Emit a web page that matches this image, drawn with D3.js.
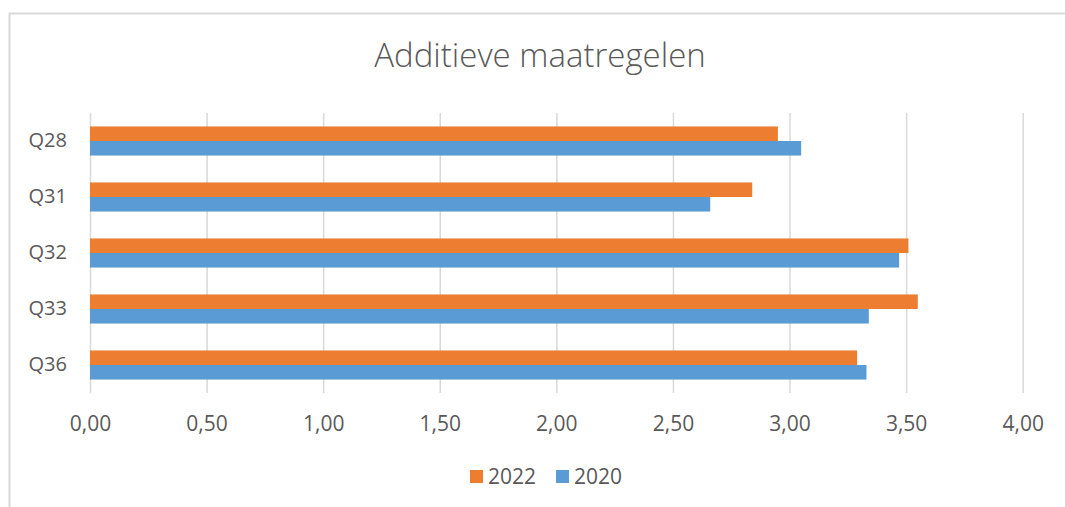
<!DOCTYPE html>
<html>
<head>
<meta charset="utf-8">
<script src="https://cdn.jsdelivr.net/npm/d3@7"></script>
<style>
  body { margin: 0; background: #fff; }
  text { font-family: "Open Sans", sans-serif; fill: #595959; }
</style>
</head>
<body>
<svg id="chart" width="1065" height="507"></svg>
<script>
let categories = ["Q28", "Q31", "Q32", "Q33", "Q36"];
let series = ["2022", "2020"];
let values2022 = [2.95, 2.84, 3.51, 3.55, 3.29];
let values2020 = [3.05, 2.66, 3.47, 3.34, 3.33];
let xTicks = [0, 0.5, 1, 1.5, 2, 2.5, 3, 3.5, 4];
let colors = ["#ED7D31", "#5B9BD5"];

let svg = d3.select("#chart");

// chart border
svg.append("rect")
  .attr("x", 9.5)
  .attr("y", 13.5)
  .attr("width", 1100)
  .attr("height", 600)
  .attr("fill", "none")
  .attr("stroke", "#d9d9d9")
  .attr("stroke-width", 2);

// title
svg.append("text")
  .attr("x", 540)
  .attr("y", 67)
  .attr("text-anchor", "middle")
  .style("font-size", "33px")
  .style("font-weight", 300)
  .text("Additieve maatregelen");

let plotLeft = 90, plotRight = 1022.7, plotTop = 113, plotBottom = 393;

let xScale = d3.scaleLinear()
  .domain([0, 4])
  .range([plotLeft, plotRight]);

let yScale = d3.scaleBand()
  .domain(categories)
  .range([plotTop, plotBottom])
  .paddingInner(0.48)
  .paddingOuter(0.24);

let ySub = d3.scaleBand()
  .domain(series)
  .range([0, yScale.bandwidth()]);

// grid lines
let grid = svg.append("g")
  .attr("transform", "translate(0," + plotBottom + ")")
  .call(d3.axisBottom(xScale).tickValues(xTicks).tickSize(-(plotBottom - plotTop)).tickFormat(""));
grid.select(".domain").remove();
grid.selectAll("line")
  .attr("stroke", "#d9d9d9")
  .attr("stroke-width", 1.5);

// bars
let rows = categories.map(function (c, i) {
  return { cat: c, vals: [values2022[i], values2020[i]] };
});

let groups = svg.selectAll(".grp")
  .data(rows)
  .enter()
  .append("g")
  .attr("transform", function (d) { return "translate(0," + yScale(d.cat) + ")"; });

groups.selectAll("rect")
  .data(function (d) {
    return d.vals.map(function (v, j) { return { s: series[j], v: v, c: colors[j] }; });
  })
  .enter()
  .append("rect")
  .attr("x", xScale(0))
  .attr("y", function (d) { return ySub(d.s); })
  .attr("width", function (d) { return xScale(d.v) - xScale(0); })
  .attr("height", ySub.bandwidth())
  .attr("fill", function (d) { return d.c; });

// x axis labels
let xAxis = svg.append("g")
  .attr("transform", "translate(0," + plotBottom + ")")
  .call(d3.axisBottom(xScale)
    .tickValues(xTicks)
    .tickSize(0)
    .tickPadding(23)
    .tickFormat(function (d) { return d3.format(".2f")(d).replace(".", ","); }));
xAxis.select(".domain").remove();
xAxis.selectAll("text")
  .style("font-size", "21px")
  .attr("fill", "#595959");

// y axis labels
let yAxis = svg.append("g")
  .attr("transform", "translate(" + plotLeft + ",0)")
  .call(d3.axisLeft(yScale).tickSize(0).tickPadding(23));
yAxis.select(".domain").remove();
yAxis.selectAll("text")
  .style("font-size", "20px")
  .attr("fill", "#595959");

// legend
let legend = svg.append("g");
let legendX = [470, 556];
series.forEach(function (s, i) {
  legend.append("rect")
    .attr("x", legendX[i])
    .attr("y", 470)
    .attr("width", 13)
    .attr("height", 13)
    .attr("fill", colors[i]);
  legend.append("text")
    .attr("x", legendX[i] + 18)
    .attr("y", 484)
    .style("font-size", "21px")
    .text(s);
});
</script>
</body>
</html>
